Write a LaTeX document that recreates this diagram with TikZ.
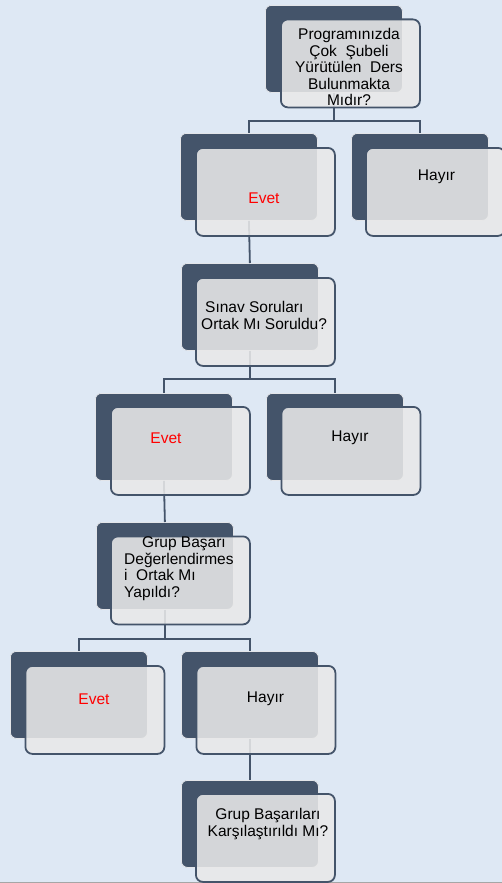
\documentclass[tikz,border=0pt]{standalone}
\usepackage{fontspec}
\setmainfont{Liberation Sans}
\usetikzlibrary{calc}
\definecolor{bgc}{HTML}{DEE8F4}
\definecolor{navy}{HTML}{44546A}
\definecolor{frontc}{HTML}{E9E9E9}
\tikzset{
  backbox/.style={fill=navy, draw=white!85!navy, line width=0.8pt, rounded corners=6pt,
    minimum width=137pt, minimum height=87pt, inner sep=0pt, anchor=north west},
  frontbox/.style={fill=frontc, fill opacity=0.88, draw=navy, line width=1.8pt, rounded corners=7pt,
    minimum width=139pt, minimum height=88pt, inner sep=0pt, anchor=north west},
  conn/.style={draw=navy, line width=1.8pt},
  lbl/.style={font=\fontsize{15.5}{16.5}\selectfont, text=black, inner sep=0pt},
  yes/.style={lbl, text=red}
}
\begin{document}
\begin{tikzpicture}[x=1pt,y=-1pt]
\fill[bgc] (0,0) rectangle (502,883);
\useasboundingbox (0,0) rectangle (502,883);
\draw[gray!70, line width=1pt] (0,882.5) -- (502,882.5);
% back boxes
\node[backbox] (tB) at (265,5) {};
\node[backbox] (e1B) at (180,133) {};
\node[backbox] (h1B) at (351,133) {};
\node[backbox] (sB) at (181,263) {};
\node[backbox] (e2B) at (95,393) {};
\node[backbox] (h2B) at (266,393) {};
\node[backbox] (gB) at (96,522) {};
\node[backbox] (e3B) at (10,651) {};
\node[backbox] (h3B) at (181,651) {};
\node[backbox] (fB) at (181,780) {};
% connectors
\coordinate (bus1) at ($(tB.south)+(0,28)$);
\draw[conn] (tB.south) -- (bus1) -| (e1B.north);
\draw[conn] (bus1) -| (h1B.north);
\draw[conn] (e1B.south) -- (sB.north);
\coordinate (bus2) at ($(sB.south)+(0,28)$);
\draw[conn] (sB.south) -- (bus2) -| (e2B.north);
\draw[conn] (bus2) -| (h2B.north);
\draw[conn] (e2B.south) -- (gB.north);
\coordinate (bus3) at ($(gB.south)+(0,29)$);
\draw[conn] (gB.south) -- (bus3) -| (e3B.north);
\draw[conn] (bus3) -| (h3B.north);
\draw[conn] (h3B.south) -- (fB.north);
% front boxes
\node[frontbox] (tF) at (280,18.5) {};
\node[frontbox] (e1F) at (195,147) {};
\node[frontbox] (h1F) at (365,147) {};
\node[frontbox] (sF) at (195,277) {};
\node[frontbox] (e2F) at (110,406) {};
\node[frontbox] (h2F) at (280.5,406) {};
\node[frontbox] (gF) at (110,535.5) {};
\node[frontbox] (e3F) at (24.5,665) {};
\node[frontbox] (h3F) at (195.5,665) {};
\node[frontbox] (fF) at (195,793) {};
% labels
\node[lbl, align=center] (tT) at (349,67) {Programınızda\\Çok~ Şubeli\\Yürütülen~ Ders\\Bulunmakta\\Mıdır?};
\node[yes] (e1T) at (264,198) {Evet};
\node[lbl] (h1T) at (436.5,177) {Hayır};
\node[lbl, align=left, anchor=west] (sT) at (201,315.5) {\hspace{4pt}Sınav Soruları\\Ortak Mı Soruldu?};
\node[yes] (e2T) at (166,438) {Evet};
\node[lbl] (h2T) at (350,438) {Hayır};
\node[lbl, align=left, anchor=west] (gT) at (124,568.5) {\hspace{18pt}Grup Başarı\\Değerlendirmes\\i~ Ortak Mı\\Yapıldı?};
\node[yes] (e3T) at (94,699) {Evet};
\node[lbl] (h3T) at (265.5,699) {Hayır};
\node[lbl, align=center] (fT) at (268,824) {Grup Başarıları\\Karşılaştırıldı Mı?};
\end{tikzpicture}
\end{document}
